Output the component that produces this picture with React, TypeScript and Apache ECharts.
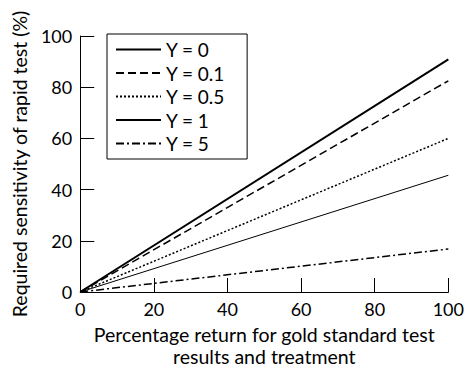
import React, { useEffect, useRef } from "react";
import * as echarts from "echarts";

const seriesNames = ["Y = 0", "Y = 0.1", "Y = 0.5", "Y = 1", "Y = 5"];
const xValues = [0, 100];
const yAt100 = [90.9, 82.5, 60.0, 45.6, 16.8];
const axisTicks = [0, 20, 40, 60, 80, 100];

const FONT = "Lato, 'DejaVu Sans', sans-serif";

const lineStyles: any[] = [
  { width: 2, type: "solid" },
  { width: 1.5, type: [8, 4] },
  { width: 1.5, type: [2, 2] },
  { width: 1, type: "solid" },
  { width: 1.5, type: [8, 3, 2, 3] },
];

export default function App() {
  const ref = useRef<HTMLDivElement>(null);
  useEffect(() => {
    if (!ref.current) return;
    const chart = echarts.init(ref.current, undefined, { renderer: "svg" });
    const axisCommon = {
      type: "value" as const,
      min: axisTicks[0],
      max: axisTicks[axisTicks.length - 1],
      interval: axisTicks[1] - axisTicks[0],
      nameLocation: "middle" as const,
      axisLine: { show: true, lineStyle: { color: "#000", width: 1 } },
      axisTick: { show: true, inside: true, length: 14, lineStyle: { color: "#000", width: 1 } },
      axisLabel: { color: "#000", fontSize: 18, fontFamily: FONT, margin: 8 },
      splitLine: { show: false },
      nameTextStyle: { color: "#000", fontSize: 19.5, fontFamily: FONT, lineHeight: 22 },
    };
    chart.setOption({
      animation: false,
      backgroundColor: "#fff",
      grid: { left: 77, right: 15, top: 36, bottom: 74, containLabel: false },
      xAxis: {
        ...axisCommon,
        name: "Percentage return for gold standard test\nresults and treatment",
        nameGap: 31,
      },
      yAxis: {
        ...axisCommon,
        name: "Required sensitivity of rapid test (%)",
        nameGap: 43,
      },
      legend: {
        orient: "vertical",
        left: 107,
        top: 34,
        padding: [6, 22, 6, 8],
        itemWidth: 45,
        itemHeight: 18,
        itemGap: 4.5,
        borderColor: "#000",
        borderWidth: 1,
        backgroundColor: "#fff",
        itemStyle: { color: "transparent", borderWidth: 0, opacity: 0 },
        textStyle: { color: "#000", fontSize: 19, fontFamily: FONT, padding: [0, 0, 0, 0] },
        data: seriesNames,
      },
      series: seriesNames.map((name, i) => ({
        name,
        type: "line",
        symbol: "none",
        data: xValues.map((x) => [x, (x / 100) * yAt100[i]]),
        lineStyle: { color: "#000", ...lineStyles[i] },
        itemStyle: { color: "#000" },
      })),
    });
    return () => chart.dispose();
  }, []);
  return <div ref={ref} style={{ width: 467, height: 372, position: "absolute", left: 0, top: 0 }} />;
}
